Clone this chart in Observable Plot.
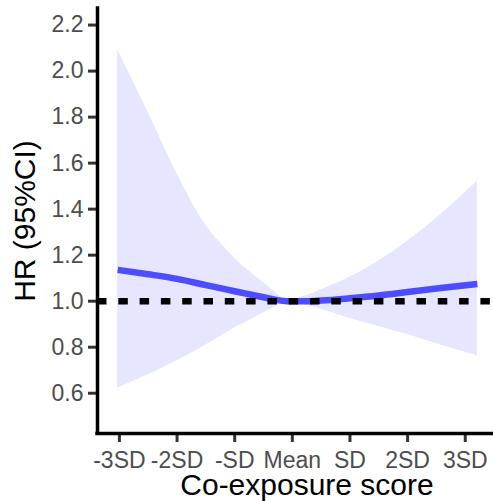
<!DOCTYPE html>
<html><head><meta charset="utf-8">
<script src="https://cdn.jsdelivr.net/npm/d3@7"></script>
<script src="https://cdn.jsdelivr.net/npm/@observablehq/plot@0.6"></script>
<style>body{margin:0;background:#fff}</style>
</head><body><div id="chart"></div>
<script>
// Co-exposure score in SD units
const xs    = [-3.03, -2.5, -2, -1.5, -1.13, -1, -0.75, -0.5, -0.3, -0.1, 0.2, 0.5, 1, 1.5, 2, 2.5, 3.21];
const hr    = [1.136, 1.117, 1.097, 1.07, 1.05, 1.043, 1.03, 1.017, 1.007, 1.0, 1.0, 1.003, 1.013, 1.025, 1.04, 1.055, 1.075];
const lower = [0.623, 0.68, 0.741, 0.81, 0.865, 0.885, 0.915, 0.95, 0.975, 1.0, 0.985, 0.965, 0.925, 0.89, 0.855, 0.815, 0.763];
const upper = [2.092, 1.82, 1.553, 1.33, 1.22, 1.185, 1.13, 1.08, 1.04, 1.0, 1.02, 1.05, 1.105, 1.175, 1.26, 1.36, 1.521];
const xTicks = [-3, -2, -1, 0, 1, 2, 3];
const xTickLabels = ["-3SD", "-2SD", "-SD", "Mean", "SD", "2SD", "3SD"];
const yTicks = [0.6, 0.8, 1.0, 1.2, 1.4, 1.6, 1.8, 2.0, 2.2];
const refLine = [1];
const xDomain = [-3.38, 3.49];
const yDomain = [0.425, 2.272];

const rows = xs.map((x, i) => ({x, hr: hr[i], lower: lower[i], upper: upper[i]}));

const chart = Plot.plot({
  width: 493, height: 501,
  marginLeft: 97, marginRight: 0, marginTop: 8, marginBottom: 68,
  style: {fontFamily: "'Liberation Sans', Arial, sans-serif", background: "#fff"},
  x: {domain: xDomain},
  y: {domain: yDomain},
  marks: [
    Plot.areaY(rows, {x: "x", y1: "lower", y2: "upper", fill: "#e6e6ff", curve: "monotone-x"}),
    Plot.line(rows, {x: "x", y: "hr", stroke: "#4d4dff", strokeWidth: 6.5, strokeLinecap: "butt", curve: "monotone-x"}),
    Plot.ruleY(refLine, {stroke: "#000", strokeWidth: 6.5, strokeDasharray: "9.5,11.8"}),
    Plot.axisX({ticks: xTicks, tickFormat: d => xTickLabels[xTicks.indexOf(d)], tickSize: 9, tickPadding: 9, fontSize: 23, strokeWidth: 3, label: null}),
    Plot.axisY({ticks: yTicks, tickFormat: d3.format(".1f"), tickSize: 9, tickPadding: 5, fontSize: 23, strokeWidth: 3, label: null}),
    Plot.ruleX([xDomain[0]], {stroke: "#000", strokeWidth: 3.5, strokeLinecap: "square"}),
    Plot.ruleY([yDomain[0]], {stroke: "#000", strokeWidth: 3.5, strokeLinecap: "square"}),
    Plot.text(["HR (95%CI)"], {frameAnchor: "left", dx: -72, rotate: -90, fontSize: 30, fill: "#000", textAnchor: "middle", lineAnchor: "middle"}),
    Plot.text(["Co-exposure score"], {frameAnchor: "bottom", dx: 11.5, dy: 51.5, fontSize: 30, fill: "#000", textAnchor: "middle", lineAnchor: "middle"})
  ]
});
const svg = d3.select(chart);
svg.selectAll('g[aria-label$="axis tick"]').attr("stroke", "#333333");
svg.selectAll('g[aria-label$="axis tick label"]').attr("fill", "#4d4d4d").attr("font-size", 23);
document.getElementById("chart").appendChild(chart);
</script>
</body></html>
